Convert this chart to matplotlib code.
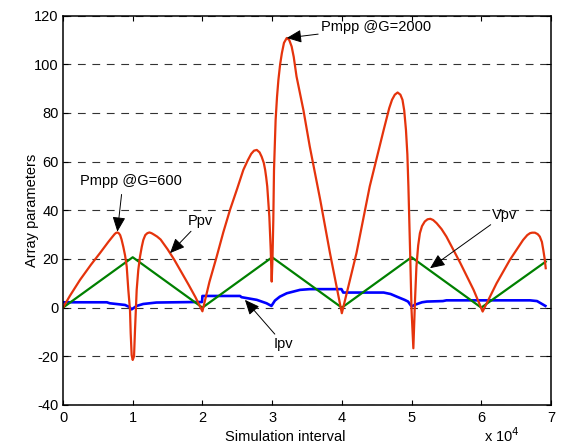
import matplotlib
matplotlib.use("Agg")
import matplotlib.pyplot as plt
import numpy as np

plt.rcParams['font.family'] = ['Liberation Sans', 'DejaVu Sans']
plt.rcParams['axes.unicode_minus'] = False

# simulation interval, in units of 1e4 samples
ppv_x = [0, 0.1, 0.244, 0.4, 0.53, 0.65, 0.70, 0.74, 0.76, 0.78, 0.80, 0.82, 0.84, 0.865, 0.89, 0.914, 0.937, 0.961, 0.971, 0.985, 1.0,
         1.019, 1.033, 1.057, 1.08, 1.105, 1.13, 1.152, 1.18, 1.21, 1.24, 1.27, 1.3, 1.35, 1.4, 1.5, 1.6, 1.7, 1.8, 1.9, 2.0,
         2.1, 2.205, 2.3, 2.396, 2.5, 2.587, 2.65, 2.70, 2.74, 2.78, 2.82, 2.85, 2.88, 2.9, 2.915, 2.93, 2.96, 2.98, 2.994,
         3.005, 3.017, 3.027, 3.05, 3.07, 3.09, 3.115, 3.14, 3.17, 3.21, 3.245, 3.28, 3.31, 3.35, 3.45, 3.54, 3.69, 3.83, 4.0,
         4.21, 4.40, 4.60, 4.68, 4.72, 4.76, 4.80, 4.84, 4.87, 4.895, 4.92, 4.94, 4.955, 4.98, 5.0, 5.026,
         5.05, 5.07, 5.095, 5.12, 5.15, 5.19, 5.23, 5.27, 5.31, 5.36, 5.43, 5.50, 5.70, 5.89, 6.02,
         6.22, 6.41, 6.60, 6.66, 6.70, 6.73, 6.77, 6.81, 6.84, 6.87, 6.89, 6.91, 6.925]
ppv_y = [0, 4.9, 11.4, 17.6, 22.4, 27, 28.8, 30.2, 30.7, 30.9, 30.6, 29.8, 28, 25, 21.5, 16.9, 7.3, -0.9, -10.5, -19.5, -21.5,
         -20, -9.2, 7.3, 15.5, 21, 25, 27.8, 29.8, 30.6, 30.9, 30.6, 30.1, 29.2, 28, 24, 19.5, 14.5, 9.5, 4.3, -1.5,
         10.5, 21, 31, 40.2, 49, 56.6, 60.5, 63.2, 64.5, 64.8, 63.8, 62, 59.5, 56.6, 53.5, 49.8, 37.4, 23.7, 10.7,
         20, 36, 56.6, 77, 86.5, 93.6, 100, 104.6, 108.8, 110.8, 110, 107.3, 103, 95, 81, 66.2, 44.3, 22.4, -2.3,
         22.4, 49.8, 73, 82, 85.4, 87.5, 88.4, 87.5, 85.4, 81, 73, 63, 49.8, 22.4, -1, -16.7,
         3.2, 16.9, 25.5, 30.6, 33.5, 35.4, 36.3, 36.5, 36, 34.7, 32.3, 29.2, 18.3, 7.3, -1.6,
         10, 19.6, 27.8, 29.8, 30.6, 30.8, 30.8, 30.2, 29.2, 27, 23.7, 20, 16.2]

vpv_x = [0, 1, 2, 3, 4, 5, 6, 6.925]
vpv_y = [0, 20.7, 0, 20.7, 0, 20.7, 0, 18.9]

ipv_x = [0, 0.63, 0.67, 0.89, 0.95, 0.985, 1.057, 1.15, 1.34, 1.87, 1.995, 2.0, 2.54, 2.56, 2.78, 2.92, 2.99,
         3.04, 3.11, 3.21, 3.40, 3.54, 3.995, 4.02, 4.6, 4.7, 4.79, 4.9, 4.95, 5.0,
         5.05, 5.15, 5.22, 5.45, 5.5, 6.7, 6.8, 6.92]
ipv_y = [2.2, 2.2, 1.8, 1.1, 0.3, -0.7, 0.7, 1.5, 2.1, 2.3, 2.3, 4.8, 4.8, 4.3, 3.2, 1.8, 0.7,
         2.9, 4.5, 5.9, 7.3, 7.6, 7.6, 6.2, 6.2, 5.6, 4.5, 3.2, 2.5, 0.5,
         1.2, 2.2, 2.5, 2.7, 3.0, 3.0, 2.7, 0.7]

scale = 1e4

fig = plt.figure(figsize=(5.61, 4.48), dpi=100)
ax = fig.add_axes([0.1123, 0.096, 0.8698, 0.8692])

ax.plot(np.array(ipv_x) * scale, ipv_y, color='#0000ff', lw=1.9)
ax.plot(np.array(vpv_x) * scale, vpv_y, color='#008000', lw=1.6)
ax.plot(np.array(ppv_x) * scale, ppv_y, color='#e5330c', lw=1.6)

ax.set_xlim(0, 7e4)
ax.set_ylim(-40, 120)
ax.set_xticks(np.arange(0, 8) * scale)
ax.set_xticklabels([str(i) for i in range(8)])
ax.set_yticks(np.arange(-40, 121, 20))
ax.yaxis.grid(True, linestyle=(0, (7, 6)), color='#333333', lw=0.8)
ax.tick_params(direction='in', top=True, right=True, length=3.5, width=0.8, labelsize=10.5)
ax.tick_params(axis='x', pad=4)
ax.tick_params(axis='y', pad=3)
for s in ax.spines.values():
    s.set_linewidth(1.1)

ax.set_xlabel('Simulation interval', fontsize=10.5)
ax.xaxis.set_label_coords(0.455, -0.063)
ax.set_ylabel('Array parameters', fontsize=10.5)
ax.yaxis.set_label_coords(-0.05, 0.5)
fig.text(0.862, 0.006, 'x 10$^4$', fontsize=10.5, va='bottom')

arrow = dict(arrowstyle='-|>,head_length=0.5,head_width=0.22', color='k', lw=0.7,
             mutation_scale=18, shrinkA=0, shrinkB=0)
ax.annotate('Pmpp @G=2000', xy=(3.21 * scale, 110.8), xytext=(3.70 * scale, 115.3),
            fontsize=10.5, va='center', arrowprops=arrow)
ax.text(0.244 * scale, 52.1, 'Pmpp @G=600', fontsize=10.5, va='center')
ax.annotate('', xy=(0.78 * scale, 31.2), xytext=(0.84 * scale, 46.5), arrowprops=arrow)
ax.annotate('Ppv', xy=(1.535 * scale, 22.4), xytext=(1.79 * scale, 35.4),
            fontsize=10.5, va='center', arrowprops=arrow)
ax.annotate('Vpv', xy=(5.265 * scale, 16.2), xytext=(6.15 * scale, 38.1),
            fontsize=10.5, va='center', arrowprops=arrow)
ax.annotate('Ipv', xy=(2.61 * scale, 3.2), xytext=(3.02 * scale, -14.9),
            fontsize=10.5, va='center', arrowprops=arrow)

fig.savefig('out.png', dpi=100)
